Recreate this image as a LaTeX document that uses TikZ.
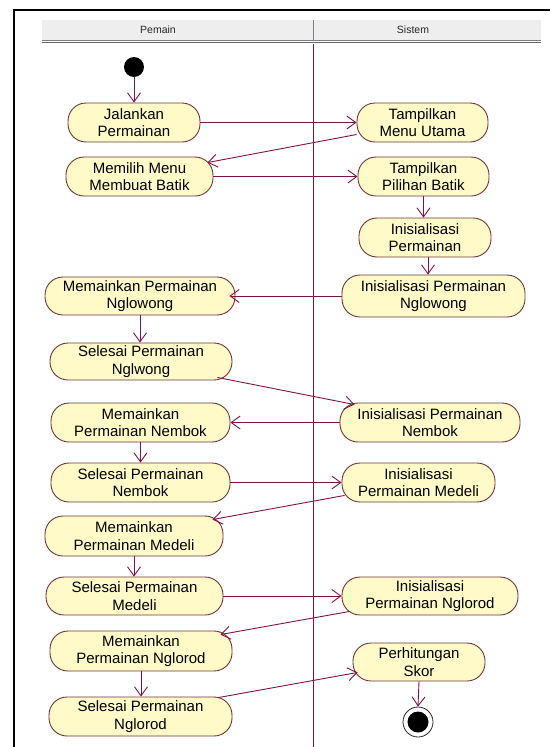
\documentclass[tikz,border=0pt]{standalone}
\usepackage{fontspec}
\setmainfont{Liberation Sans}
\usetikzlibrary{arrows.meta}

\definecolor{actfill}{RGB}{255,250,200}
\definecolor{actline}{RGB}{110,55,55}
\definecolor{flow}{RGB}{125,20,70}
\definecolor{headfill}{RGB}{238,238,238}
\definecolor{headline}{RGB}{125,125,125}

\tikzset{
  act/.style={draw=actline, fill=actfill, line width=0.9pt,
    rounded corners=18pt, align=center, inner sep=1pt,
    font=\fontsize{15pt}{17.6pt}\selectfont, text=black},
  flowline/.style={draw=flow, line width=0.9pt,
    -{Straight Barb[length=9pt,width=13pt,line width=0.9pt]}},
  lanehead/.style={font=\fontsize{10.5pt}{12pt}\selectfont, text=black!85},
}

\begin{document}
\begin{tikzpicture}[x=1pt,y=-1pt]
\useasboundingbox (0,0) rectangle (550,747);

% outer frame
\draw[line width=2pt] (13.7,747) -- (13.7,10.3) -- (550,10.3);

% swimlane header
\fill[headfill] (41.7,20) rectangle (540.7,40);
\draw[headline, line width=1.3pt] (41.7,40.3) -- (540.7,40.3);
\draw[headline!80!black, line width=1pt] (41.7,42.6) -- (540.7,42.6);
\draw[headline, line width=0.8pt] (313,20) -- (313,40);
\node[lanehead] (hpemain) at (158,30) {Pemain};
\node[lanehead] (hsistem) at (413,30) {Sistem};

% lane separator
\coordinate (laneTop) at (313,43.5);
\coordinate (laneBot) at (313,747);
\draw[flow, line width=0.9pt] (laneTop) -- (laneBot);

% start / end
\node[circle, fill=black, inner sep=0pt, minimum size=20pt] (start) at (134,67) {};
\node[circle, draw=black!85, fill=white, line width=0.8pt, inner sep=0pt, minimum size=30pt] (finish) at (418,722) {};
\node[circle, fill=black, inner sep=0pt, minimum size=21pt] (finishdot) at (418,722) {};

% activities: player lane
\node[act, minimum width=132pt, minimum height=39pt] (jp)  at (134,122.5)   {Jalankan\\Permainan};
\node[act, minimum width=147pt, minimum height=39pt] (mm)  at (139.5,176.5) {Memilih Menu\\Membuat Batik};
\node[act, minimum width=190pt, minimum height=38pt] (mng) at (140,296)     {Memainkan Permainan\\Nglowong};
\node[act, minimum width=182pt, minimum height=37pt] (sng) at (141,361.5)   {Selesai Permainan\\Nglwong};
\node[act, minimum width=179pt, minimum height=39pt] (mnb) at (140.5,422.5) {Memainkan\\Permainan Nembok};
\node[act, minimum width=179pt, minimum height=39pt] (snb) at (140.5,482.5) {Selesai Permainan\\Nembok};
\node[act, minimum width=178pt, minimum height=40pt] (mmd) at (134,536)     {Memainkan\\Permainan Medeli};
\node[act, minimum width=177pt, minimum height=38pt] (smd) at (134.5,596)   {Selesai Permainan\\Medeli};
\node[act, minimum width=182pt, minimum height=40pt] (mnl) at (141,651)     {Memainkan\\Permainan Nglorod};
\node[act, minimum width=183pt, minimum height=39pt] (snl) at (140.5,716.5) {Selesai Permainan\\Nglorod};

% activities: system lane
\node[act, minimum width=131pt, minimum height=39pt] (tmu) at (422.5,122.5) {Tampilkan\\Menu Utama};
\node[act, minimum width=131pt, minimum height=39pt] (tpb) at (423.5,176.5) {Tampilkan\\Pilihan Batik};
\node[act, minimum width=132pt, minimum height=39pt] (ip)  at (425,237.5)   {Inisialisasi\\Permainan};
\node[act, minimum width=183pt, minimum height=42pt] (ing) at (433.5,296)   {Inisialisasi Permainan\\Nglowong};
\node[act, minimum width=180pt, minimum height=39pt] (inb) at (430,422.5)   {Inisialisasi Permainan\\Nembok};
\node[act, minimum width=153pt, minimum height=39pt] (imd) at (418.5,482.5) {Inisialisasi\\Permainan Medeli};
\node[act, minimum width=176pt, minimum height=38pt] (inl) at (430,596)     {Inisialisasi\\Permainan Nglorod};
\node[act, minimum width=132pt, minimum height=38pt] (ps)  at (419,662)     {Perhitungan\\Skor};

% control flows
\draw[flowline] (start) -- (jp.north);
\draw[flowline] (jp.east) -- (tmu.west);
\draw[flowline] ([yshift=-12pt]tmu.west) -- ([xshift=-6pt,yshift=-6pt]mm.north east);
\draw[flowline] (mm.east) -- (tpb.west);
\draw[flowline] (tpb.south) -- (tpb.south |- ip.north);
\draw[flowline] ([xshift=3pt]ip.south) -- ([xshift=3pt]ip.south |- ing.north);
\draw[flowline] (ing.west) -- ([xshift=-6pt]mng.east);
\draw[flowline] (mng.south) -- (mng.south |- sng.north);
\draw[flowline] ([xshift=-15pt,yshift=3pt]sng.south east) -- ([xshift=15pt,yshift=-2pt]inb.north west);
\draw[flowline] (inb.west) -- (mnb.east);
\draw[flowline] (mnb.south) -- (snb.north);
\draw[flowline] (snb.east) -- (imd.west);
\draw[flowline] ([xshift=3pt,yshift=7pt]imd.south west) -- ([xshift=-11pt,yshift=-4pt]mmd.north east);
\draw[flowline] (mmd.south) -- (mmd.south |- smd.north);
\draw[flowline] (smd.east) -- (inl.west);
\draw[flowline] ([xshift=8pt,yshift=4pt]inl.south west) -- ([xshift=-12pt,yshift=-4pt]mnl.north east);
\draw[flowline] (mnl.south) -- (mnl.south |- snl.north);
\draw[flowline] ([xshift=-14pt,yshift=-1pt]snl.north east) -- ([xshift=5pt,yshift=9pt]ps.south west);
\draw[flowline] (ps.south) -- (finish.north);
\end{tikzpicture}
\end{document}
